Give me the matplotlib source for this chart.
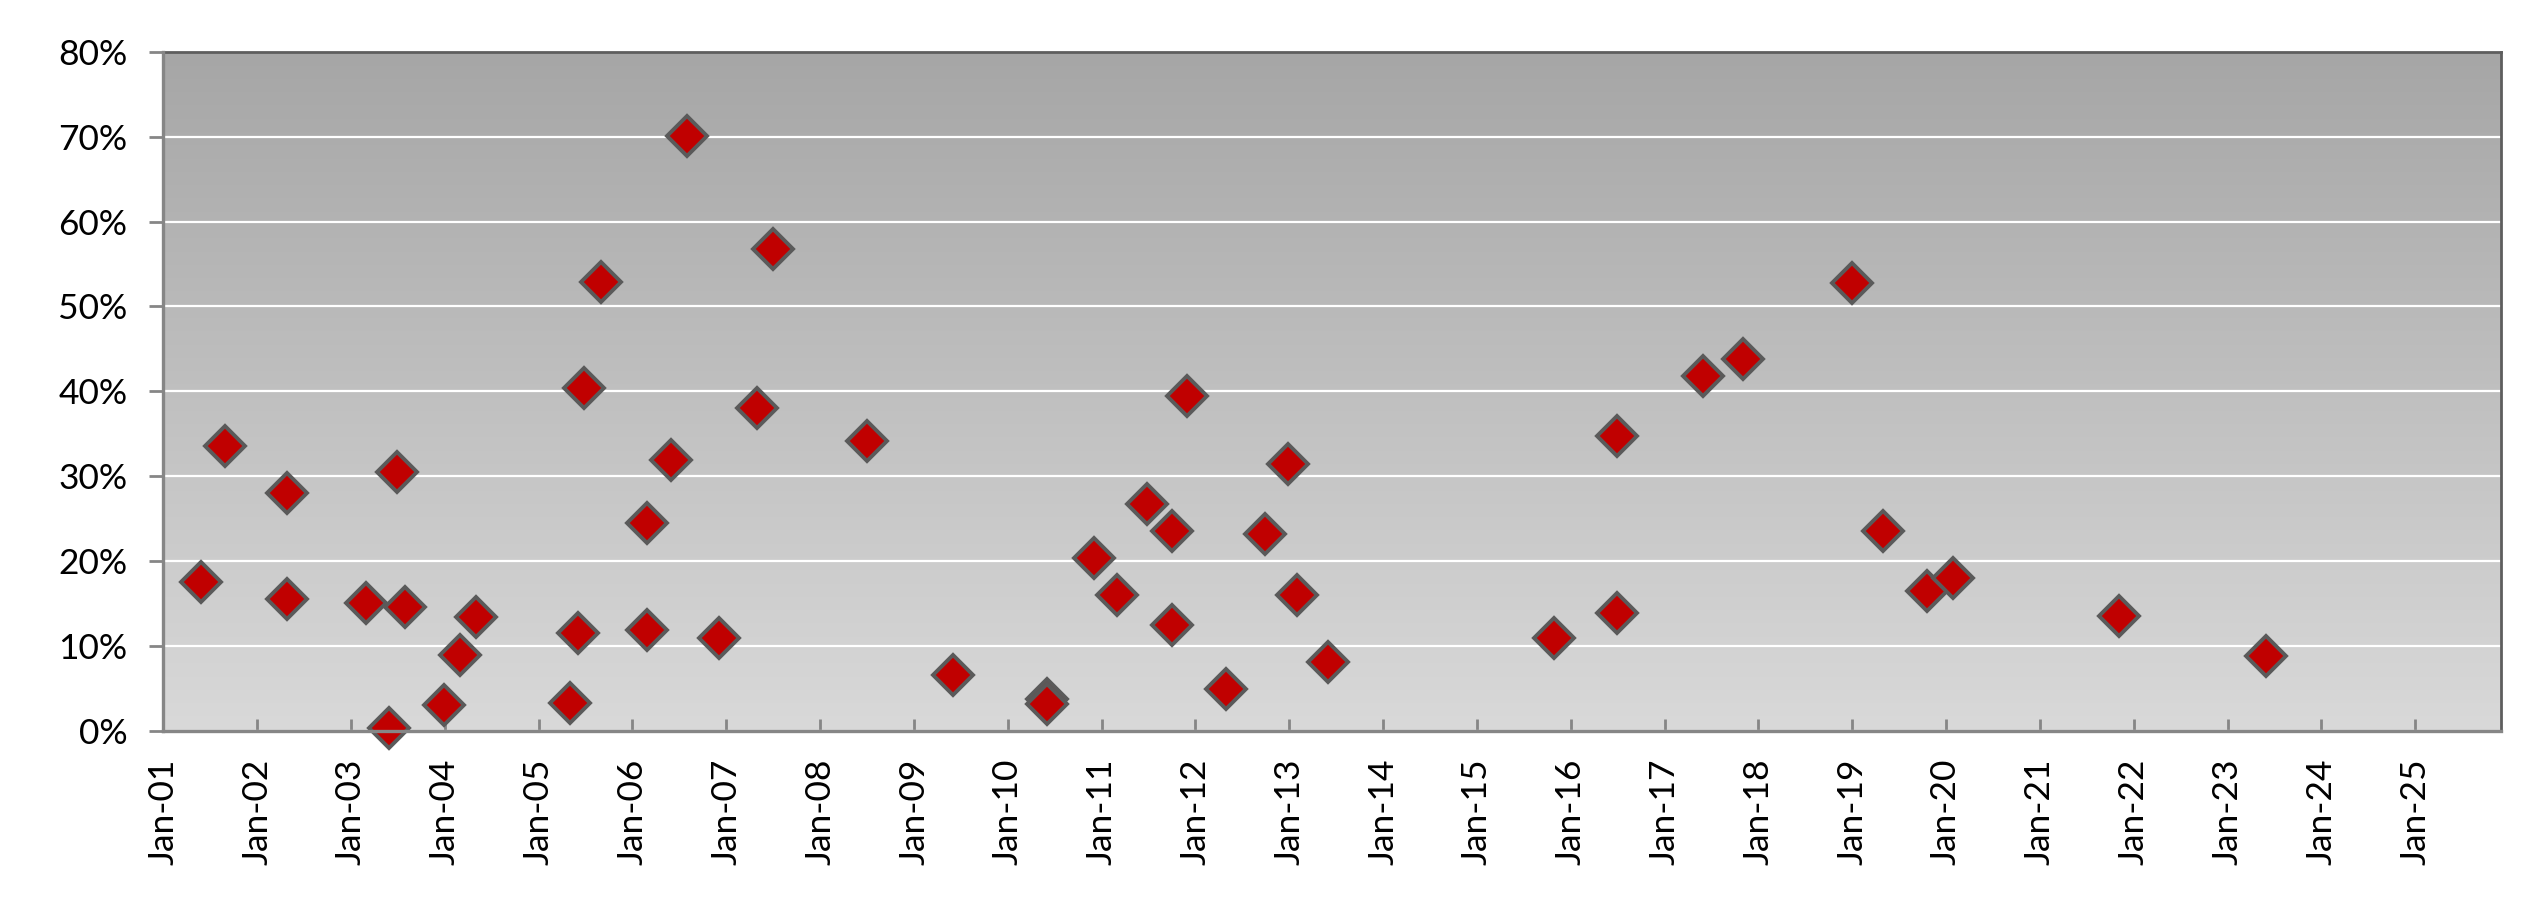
import numpy as np
import pandas as pd
import matplotlib
matplotlib.use("Agg")
import matplotlib.pyplot as plt
import matplotlib.dates as mdates
from matplotlib.ticker import PercentFormatter

# -----------------------------
# Data
# -----------------------------

dates = [
    "2001-05-27", "2001-08-29", "2002-04-28", "2002-04-28", "2003-03-01",
    "2003-05-30", "2003-06-28", "2003-07-31", "2003-12-28", "2004-02-28",
    "2004-05-01", "2005-05-01", "2005-06-03", "2005-06-28", "2005-09-02",
    "2006-02-28", "2006-02-28", "2006-05-30", "2006-07-31", "2006-12-02",
    "2007-05-01", "2007-07-02", "2008-07-01", "2009-06-03", "2010-06-03",
    "2010-06-03", "2010-12-02", "2011-03-03", "2011-06-28", "2011-10-01",
    "2011-10-01", "2011-11-28", "2012-05-01", "2012-09-27", "2012-12-28",
    "2013-01-30", "2013-05-30", "2015-10-30", "2016-06-28", "2016-06-28",
    "2017-05-30", "2017-11-03", "2019-01-01", "2019-05-01", "2019-10-19",
    "2020-01-30", "2021-11-03", "2023-05-30",
]

values = [
    17.6, 33.6, 28.0, 15.5, 15.1,
    0.3, 30.5, 14.6, 3.1, 8.9,
    13.4, 3.3, 11.5, 40.4, 52.9,
    24.5, 11.9, 31.9, 70.1, 11.0,
    38.0, 56.8, 34.2, 6.6, 3.8,
    3.2, 20.4, 16.0, 26.7, 23.6,
    12.5, 39.4, 5.0, 23.2, 31.4,
    16.0, 8.1, 11.0, 13.9, 34.7,
    41.8, 43.8, 52.8, 23.6, 16.5,
    18.0, 13.6, 8.8,
]

x_start = "2001-01-01"
x_end = "2025-12-01"
tick_years = list(range(2001, 2026))

dates = pd.to_datetime(dates)

# -----------------------------
# Figure
# -----------------------------

plt.rcParams["font.family"] = ["Lato", "DejaVu Sans"]

fig = plt.figure(figsize=(25.41, 9.17), dpi=100)
ax = fig.add_axes([0.0643, 0.2028, 0.92, 0.7408])

# gradient background of the plot area
grad = np.linspace(0, 1, 256).reshape(-1, 1)
cmap = matplotlib.colors.LinearSegmentedColormap.from_list("bg", ["#d9d9d9", "#a6a6a6"])
ax.imshow(grad, cmap=cmap, origin="lower", extent=[0, 1, 0, 1],
          transform=ax.transAxes, aspect="auto", zorder=0)

ax.plot(dates, values, linestyle="none", marker="D", markersize=20,
        markerfacecolor="#c00000", markeredgecolor="#5a5a5a",
        markeredgewidth=2.8, clip_on=False, zorder=3)

ax.set_xlim(pd.Timestamp(x_start), pd.Timestamp(x_end))
ax.set_ylim(0, 80)

ax.set_xticks([pd.Timestamp(f"{y}-01-01") for y in tick_years])
ax.xaxis.set_major_formatter(mdates.DateFormatter("%b-%y"))
ax.set_yticks(np.arange(0, 81, 10))
ax.yaxis.set_major_formatter(PercentFormatter(decimals=0))

ax.set_axisbelow(True)
ax.yaxis.grid(True, color="white", linewidth=1.6)
ax.xaxis.grid(False)

ax.tick_params(axis="x", direction="in", length=9, width=2, color="#868686",
               labelsize=25.5, pad=20, labelrotation=90)
ax.tick_params(axis="y", direction="out", length=10, width=2, color="#868686",
               labelsize=25.5, pad=16)

for s in ["left", "bottom"]:
    ax.spines[s].set_color("#868686")
    ax.spines[s].set_linewidth(2.4)
    ax.spines[s].set_zorder(4)
for s in ["top", "right"]:
    ax.spines[s].set_color("#5e5e5e")
    ax.spines[s].set_linewidth(2)

fig.savefig("out.png", dpi=100)
